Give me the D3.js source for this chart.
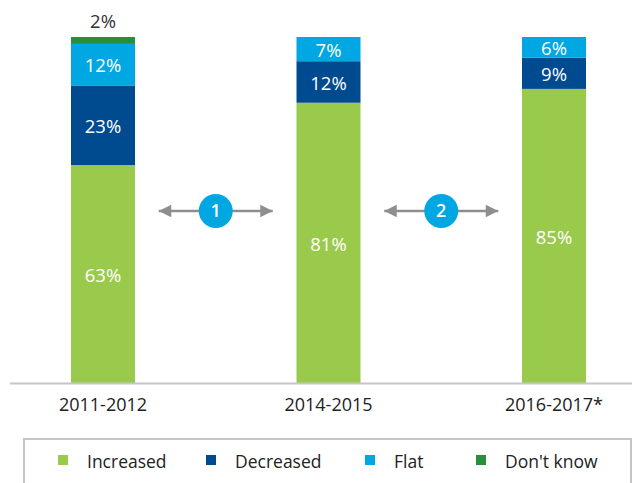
<!DOCTYPE html>
<html>
<head>
<meta charset="utf-8">
<script src="https://cdn.jsdelivr.net/npm/d3@7"></script>
<style>
  body { margin: 0; background: #fff; }
  text { font-family: "Open Sans", "Noto Sans", sans-serif; }
</style>
</head>
<body>
<svg id="chart" width="632" height="483"></svg>
<script>
// data
var periods = ['2011-2012', '2014-2015', '2016-2017*'];
var seriesNames = ['Increased', 'Decreased', 'Flat', "Don't know"];
var increased = [63, 81, 85];
var decreased = [23, 12, 9];
var flat = [12, 7, 6];
var dontKnow = [2, 0, 0];
var colors = ['#9aca4c', '#004a8f', '#00a7e3', '#2a8f3a'];

var svg = d3.select('#chart');

var rows = periods.map(function(p, i) {
  return { period: p, 'Increased': increased[i], 'Decreased': decreased[i], 'Flat': flat[i], "Don't know": dontKnow[i] };
});

var x = d3.scalePoint().domain(periods).range([103, 554]);
var y = d3.scaleLinear().domain([0, 100]).range([383, 37]);
var barW = 64;

var stack = d3.stack().keys(seriesNames);
var layers = stack(rows);

var layerG = svg.selectAll('g.layer')
  .data(layers)
  .enter().append('g')
  .attr('class', 'layer')
  .attr('fill', function(d, i) { return colors[i]; });

layerG.selectAll('rect')
  .data(function(d) { return d; })
  .enter().append('rect')
  .attr('x', function(d) { return x(d.data.period) - barW / 2; })
  .attr('width', barW)
  .attr('y', function(d) { return y(d[1]); })
  .attr('height', function(d) { return y(d[0]) - y(d[1]); });

// value labels
layers.forEach(function(layer, li) {
  layer.forEach(function(d) {
    var v = d[1] - d[0];
    if (!v) return;
    var small = (y(d[0]) - y(d[1])) < 15;
    svg.append('text')
      .attr('x', x(d.data.period))
      .attr('y', small ? y(d[1]) - 9 : (y(d[0]) + y(d[1])) / 2 + 1)
      .attr('dy', small ? 0 : '0.36em')
      .attr('text-anchor', 'middle')
      .attr('font-size', 18.5)
      .attr('fill', small ? '#333' : '#fff')
      .text(v + '%');
  });
});

// x axis
svg.append('line')
  .attr('x1', 10).attr('x2', 632)
  .attr('y1', 383.5).attr('y2', 383.5)
  .attr('stroke', '#c6c6c6').attr('stroke-width', 2);

svg.selectAll('text.xlab')
  .data(periods)
  .enter().append('text')
  .attr('class', 'xlab')
  .attr('x', function(d) { return x(d); })
  .attr('y', 411)
  .attr('text-anchor', 'middle')
  .attr('font-size', 18)
  .attr('fill', '#222')
  .text(function(d) { return d; });

// arrows between bars
var defs = svg.append('defs');
defs.append('marker')
  .attr('id', 'ah')
  .attr('viewBox', '0 0 10 10')
  .attr('refX', 10).attr('refY', 5)
  .attr('markerWidth', 6).attr('markerHeight', 5)
  .attr('markerUnits', 'strokeWidth')
  .attr('orient', 'auto-start-reverse')
  .append('path')
  .attr('d', 'M0,0 L10,5 L0,10 Z')
  .attr('fill', '#8e8e8e');

for (var i = 0; i < periods.length - 1; i++) {
  var cx = (x(periods[i]) + x(periods[i + 1])) / 2;
  var cy = 211;
  svg.append('line')
    .attr('x1', cx - 57).attr('x2', cx + 57)
    .attr('y1', cy).attr('y2', cy)
    .attr('stroke', '#8e8e8e').attr('stroke-width', 2.5)
    .attr('marker-start', 'url(#ah)')
    .attr('marker-end', 'url(#ah)');
  svg.append('circle')
    .attr('cx', cx).attr('cy', cy).attr('r', 17)
    .attr('fill', '#00a7e3');
  svg.append('text')
    .attr('x', cx).attr('y', cy)
    .attr('dy', '0.36em')
    .attr('text-anchor', 'middle')
    .attr('font-size', 18)
    .attr('font-weight', 600)
    .attr('fill', '#fff')
    .text(i + 1);
}

// legend
svg.append('rect')
  .attr('x', 24).attr('y', 439)
  .attr('width', 607).attr('height', 60)
  .attr('fill', 'none')
  .attr('stroke', '#c6c6c6').attr('stroke-width', 2);

var legendX = [58, 206, 365, 476];
var leg = svg.selectAll('g.leg')
  .data(seriesNames)
  .enter().append('g')
  .attr('class', 'leg')
  .attr('transform', function(d, i) { return 'translate(' + legendX[i] + ',455)'; });

leg.append('rect')
  .attr('width', 10).attr('height', 10)
  .attr('fill', function(d, i) { return colors[i]; });

leg.append('text')
  .attr('x', 29).attr('y', 13)
  .attr('font-size', 17.5)
  .attr('fill', '#222')
  .text(function(d) { return d; });
</script>
</body>
</html>
